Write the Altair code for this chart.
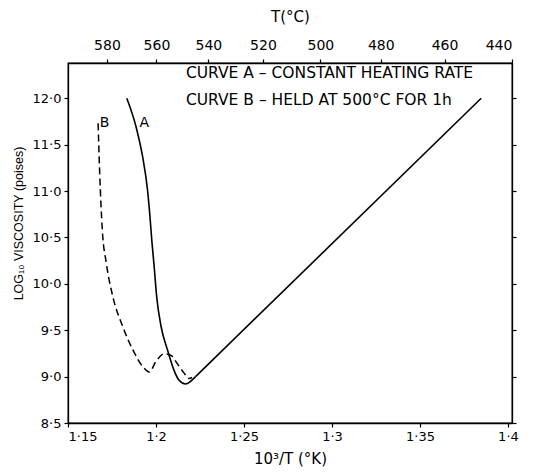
import altair as alt
import pandas as pd

# Curve A (constant heating rate): curved part, then straight part
a_x = [1.1834, 1.1887, 1.1924, 1.1952, 1.1966, 1.1977, 1.1989, 1.2004, 1.2029, 1.2065, 1.2102, 1.2131, 1.2168, 1.2197, 1.2225]
a_y = [12.00, 11.69, 11.37, 11.01, 10.72, 10.45, 10.20, 9.86, 9.54, 9.29, 9.07, 8.96, 8.92, 8.95, 9.00]
a_line_x = [1.2225, 1.3848]
a_line_y = [9.00, 12.00]

# Curve B (held at 500 C for 1 h)
b_x = [1.1671, 1.1680, 1.1695, 1.1718, 1.1755, 1.1811, 1.1868, 1.1924, 1.1962, 1.1999, 1.2046, 1.2084, 1.2121, 1.2159, 1.2187, 1.2205]
b_y = [11.73, 11.20, 10.58, 10.22, 9.86, 9.54, 9.29, 9.11, 9.05, 9.16, 9.245, 9.23, 9.14, 9.04, 8.98, 8.99]

x_ticks = [1.15, 1.2, 1.25, 1.3, 1.35, 1.4]
y_ticks = [8.5, 9.0, 9.5, 10.0, 10.5, 11.0, 11.5, 12.0]
top_temps_c = [580, 560, 540, 520, 500, 480, 460, 440]
top_tick_pos = [1000.0 / (t + 273.15) for t in top_temps_c]

curve_labels = ["A", "B"]
curve_label_x = [1.1934, 1.1708]
curve_label_y = [11.73, 11.73]

notes = ["CURVE A \u2013 CONSTANT HEATING RATE", "CURVE B \u2013 HELD AT 500\u00b0C FOR 1h"]
note_x = [1.217, 1.217]
note_y = [12.27, 11.98]

X_DOMAIN = [1.15, 1.4023]
Y_DOMAIN = [8.5, 12.38]
FONT = "DejaVu Sans"

df_a = pd.DataFrame({"x": a_x, "y": a_y, "o": list(range(len(a_x)))})
df_a2 = pd.DataFrame({"x": a_line_x, "y": a_line_y, "o": list(range(len(a_line_x)))})
df_b = pd.DataFrame({"x": b_x, "y": b_y, "o": list(range(len(b_x)))})
df_lbl = pd.DataFrame({"x": curve_label_x, "y": curve_label_y, "t": curve_labels})
df_notes = pd.DataFrame({"x": note_x, "y": note_y, "t": notes})

xs = alt.Scale(domain=X_DOMAIN, nice=False, zero=False)
ys = alt.Scale(domain=Y_DOMAIN, nice=False, zero=False)

line_a = alt.Chart(df_a).mark_line(color="black", strokeWidth=1.6, interpolate="monotone").encode(
    x=alt.X("x:Q", scale=xs, axis=alt.Axis(
        orient="bottom", values=x_ticks, title="10\u00b3/T (\u00b0K)",
        labelExpr="replace(toString(datum.value), '.', '\u00b7')",
        grid=False, tickSize=4, labelPadding=3, titlePadding=8, titleFontSize=15)),
    y=alt.Y("y:Q", scale=ys, axis=alt.Axis(
        orient="left", values=y_ticks, title="LOG\u2081\u2080 VISCOSITY (poises)",
        labelExpr="replace(format(datum.value, '.1f'), '.', '\u00b7')",
        grid=False, tickSize=4, labelPadding=3, titlePadding=7,
        titleFont="Liberation Sans", titleFontSize=12.5, titleY=160)),
    order="o:Q",
)

line_a2 = alt.Chart(df_a2).mark_line(color="black", strokeWidth=1.6).encode(
    x=alt.X("x:Q", scale=xs, axis=None),
    y=alt.Y("y:Q", scale=ys, axis=None),
    order="o:Q",
)

line_b = alt.Chart(df_b).mark_line(color="black", strokeWidth=1.5, strokeDash=[7, 4], interpolate="monotone").encode(
    x=alt.X("x:Q", scale=xs, axis=None),
    y=alt.Y("y:Q", scale=ys, axis=None),
    order="o:Q",
)

labels = alt.Chart(df_lbl).mark_text(font=FONT, fontSize=14, color="black").encode(
    x=alt.X("x:Q", scale=xs, axis=None),
    y=alt.Y("y:Q", scale=ys, axis=None),
    text="t:N",
)

note_text = alt.Chart(df_notes).mark_text(font=FONT, fontSize=15.5, align="left", baseline="middle", color="black").encode(
    x=alt.X("x:Q", scale=xs, axis=None),
    y=alt.Y("y:Q", scale=ys, axis=None),
    text="t:N",
)

top_axis = alt.Chart(df_a).mark_point(opacity=0).encode(
    x=alt.X("x:Q", scale=xs, axis=alt.Axis(
        orient="top", values=top_tick_pos, title="T(\u00b0C)",
        labelExpr="format(round((1000 / datum.value - 273.15) / 20) * 20, 'd')",
        labelFlush=True, grid=False, tickSize=4, labelPadding=7, labelFontSize=14,
        titlePadding=14, titleFontSize=15)),
    y=alt.Y("y:Q", scale=ys, axis=alt.Axis(
        orient="right", values=y_ticks, labels=False, title=None, grid=False, tickSize=4)),
)

chart = alt.layer(line_a, line_a2, line_b, labels, note_text, top_axis).resolve_axis(
    x="independent", y="independent"
).properties(
    width=444, height=360,
    background="white",
    autosize=alt.AutoSizeParams(type="none"),
    padding={"left": 68, "top": 63, "right": 24, "bottom": 49},
).configure_view(
    stroke="black", strokeWidth=1.3
).configure_axis(
    domainColor="black", domainWidth=1.3, tickColor="black", tickWidth=1.2,
    labelColor="black", titleColor="black",
    labelFont=FONT, titleFont=FONT, labelFontSize=13, titleFontSize=13,
    titleFontWeight="normal",
)

chart.save("out.html", embed_options={"renderer": "svg", "actions": False})
